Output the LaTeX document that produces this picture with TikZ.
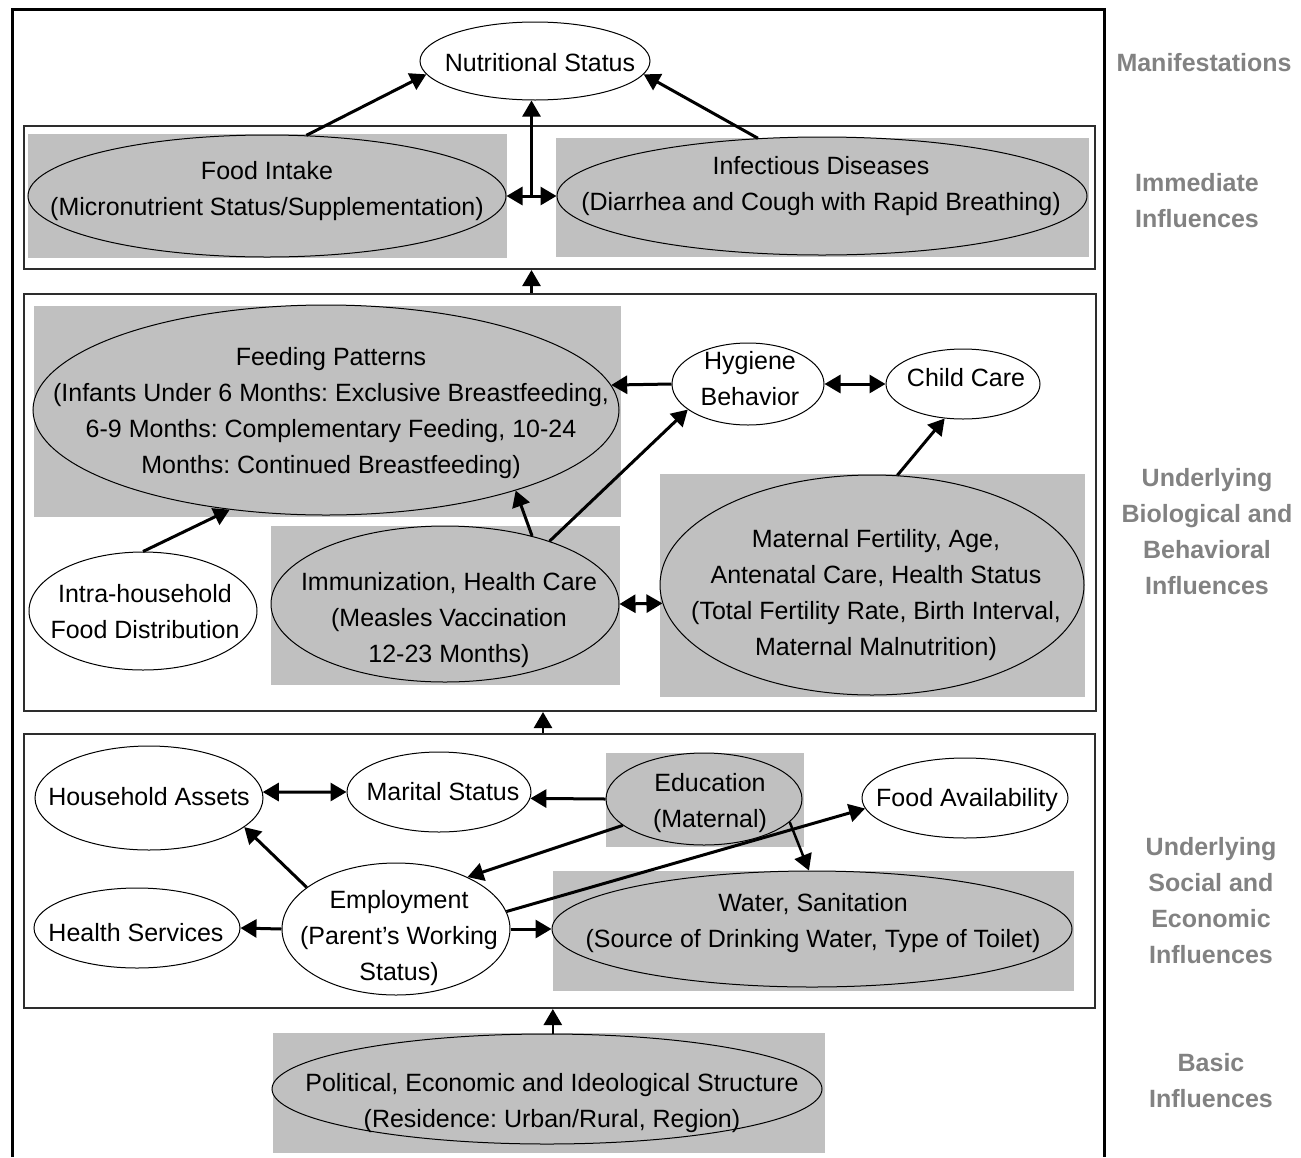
\documentclass[tikz,border=0pt]{standalone}
\usepackage{fontspec}
\setmainfont{Liberation Sans}
\usetikzlibrary{shapes.geometric,arrows.meta,calc}
\definecolor{boxgray}{RGB}{192,192,192}
\definecolor{labgray}{RGB}{130,130,130}
\definecolor{framegray}{RGB}{45,45,45}
\frenchspacing
\begin{document}
\begin{tikzpicture}[x=1pt,y=-1pt,
  ell/.style={ellipse,draw=black,line width=1pt,inner sep=0pt},
  gell/.style={ell,fill=boxgray},
  well/.style={ell,fill=white},
  shadebox/.style={fill=boxgray,draw=none,inner sep=0pt,anchor=north west},
  lvl/.style={draw=framegray,line width=2pt,inner sep=0pt,anchor=north west},
  txt/.style={font=\fontsize{25}{36}\selectfont,align=center,inner sep=0pt},
  side/.style={font=\fontsize{25}{36}\selectfont\bfseries,align=center,inner sep=0pt,text=labgray},
  arr/.style={line width=3pt,-{Triangle[length=16pt,width=18pt]}},
  darr/.style={line width=3pt,{Triangle[length=16pt,width=18pt]}-{Triangle[length=16pt,width=18pt]}},
]
\useasboundingbox (0,0) rectangle (1301,1157);

% outer frame
\draw[line width=3pt] (12.5,1157) -- (12.5,9.5) -- (1104,9.5) -- (1104,1157);

% level boxes
\node[lvl,minimum width=1071pt,minimum height=143pt] (box1) at (23,125) {};
\node[lvl,minimum width=1072pt,minimum height=417pt] (box2) at (23,293) {};
\node[lvl,minimum width=1071pt,minimum height=274pt] (box3) at (23,733) {};

% gray backgrounds
\node[shadebox,minimum width=479pt,minimum height=124pt] (fir) at (28,134) {};
\node[shadebox,minimum width=533pt,minimum height=119pt] (idr) at (556,138) {};
\node[shadebox,minimum width=587pt,minimum height=211pt] (fpr) at (34,306) {};
\node[shadebox,minimum width=425pt,minimum height=223pt] (mfr) at (660,474) {};
\node[shadebox,minimum width=349pt,minimum height=159pt] (imr) at (271,526) {};
\node[shadebox,minimum width=198pt,minimum height=94pt] (edr) at (606,753) {};
\node[shadebox,minimum width=521pt,minimum height=120pt] (wsr) at (553,871) {};
\node[shadebox,minimum width=552pt,minimum height=120pt] (polr) at (273,1033) {};

% ellipses
\node[well,minimum width=230pt,minimum height=78pt] (ns) at (535,61) {};
\node[gell,minimum width=478pt,minimum height=122pt] (fi) at (267,196) {};
\node[gell,minimum width=530pt,minimum height=118pt] (id) at (822,196) {};
\node[gell,minimum width=586pt,minimum height=210pt] (fp) at (326,410) {};
\node[well,minimum width=152pt,minimum height=82pt] (hb) at (748,384) {};
\node[well,minimum width=154pt,minimum height=70pt] (cc) at (963,384) {};
\node[gell,minimum width=424pt,minimum height=220pt] (mf) at (872,585) {};
\node[gell,minimum width=348pt,minimum height=156pt] (im) at (445,604) {};
\node[well,minimum width=228pt,minimum height=118pt] (ih) at (143,611) {};
\node[well,minimum width=228pt,minimum height=104pt] (ha) at (149,798) {};
\node[well,minimum width=184pt,minimum height=80pt] (ms) at (439,792) {};
\node[gell,minimum width=196pt,minimum height=92pt] (ed) at (704,799) {};
\node[well,minimum width=206pt,minimum height=80pt] (fa) at (965,798) {};
\node[gell,minimum width=520pt,minimum height=116pt] (ws) at (812,929) {};
\node[well,minimum width=206pt,minimum height=80pt] (hs) at (137,928) {};
\node[well,minimum width=228pt,minimum height=132pt] (em) at (396,929) {};
\node[gell,minimum width=550pt,minimum height=110pt] (pol) at (547,1089) {};

% texts
\node[txt] (nst) at (540,64) {\strut Nutritional Status};
\node[txt] (fit) at (267,190) {\strut Food Intake\\\strut (Micronutrient Status/Supplementation)};
\node[txt] (idt) at (821,185) {\strut Infectious Diseases\\\strut (Diarrhea and Cough with Rapid Breathing)};
\node[txt] (fpt) at (331,412.5) {\strut Feeding Patterns\\\strut (Infants Under 6 Months: Exclusive Breastfeeding,\\\strut 6-9 Months: Complementary Feeding, 10-24\\\strut Months: Continued Breastfeeding)};
\node[txt] (hbt) at (750,380.5) {\strut Hygiene\\\strut Behavior};
\node[txt] (cct) at (966,379.5) {\strut Child Care};
\node[txt] (mft) at (876,594) {\strut Maternal Fertility, Age,\\\strut Antenatal Care, Health Status\\\strut (Total Fertility Rate, Birth Interval,\\\strut Maternal Malnutrition)};
\node[txt] (imt) at (449,619) {\strut Immunization, Health Care\\\strut (Measles Vaccination\\\strut 12-23 Months)};
\node[txt] (iht) at (145,613.5) {\strut Intra-household\\\strut Food Distribution};
\node[txt] (hat) at (149,798.5) {\strut Household Assets};
\node[txt] (mst) at (443,793.5) {\strut Marital Status};
\node[txt] (edt) at (710,802) {\strut Education\\\strut (Maternal)};
\node[txt] (fat) at (967,799) {\strut Food Availability};
\node[txt] (wst) at (813,922) {\strut Water, Sanitation\\\strut (Source of Drinking Water, Type of Toilet)};
\node[txt] (hst) at (136,934) {\strut Health Services};
\node[txt] (emt) at (399,937) {\strut Employment\\\strut (Parent’s Working\\\strut Status)};
\node[txt] (polt) at (552,1102) {\strut Political, Economic and Ideological Structure\\\strut (Residence: Urban/Rural, Region)};

% side labels
\node[side] (s1) at (1204,63.8) {\strut Manifestations};
\node[side] (s2) at (1197,201.8) {\strut Immediate\\\strut Influences};
\node[side] (s3) at (1207,533) {\strut Underlying\\\strut Biological and\\\strut Behavioral\\\strut Influences};
\node[side] (s4) at (1211,902) {\strut Underlying\\\strut Social and\\\strut Economic\\\strut Influences};
\node[side] (s5) at (1211,1082) {\strut Basic\\\strut Influences};

% connectors: immediate level
\coordinate (mid) at ($(fi.east)!0.5!(id.west)$);
\draw[arr] (fi.57) -- (ns.187);
\draw[arr] (id.138) -- (ns.353);
\draw[darr] (fi.east) -- (id.west);
\draw[arr,line width=2.5pt] (mid) -- (mid |- ns.south);
\draw[arr,line width=2.5pt] (box2.north -| mid) -- (box1.south -| mid);

% underlying biological level
\draw[arr] (hb.west) -- (fp.5);
\draw[darr] (hb.east) -- (cc.west);
\draw[arr] (mf.77) -- (cc.242);
\draw[arr] (im.38) -- (fp.337);
\draw[arr] (im.31) -- (hb.203);
\draw[darr] (im.east) -- (mf.185);
\draw[arr] (ih.north) -- (fp.226);
\coordinate (c3) at (543,0);
\draw[arr,line width=2.5pt] (box3.north -| c3) -- (box2.south -| c3);

% underlying social level
\draw[darr] (ha.3) -- (ms.west);
\draw[arr] (ed.west) -- (ms.356);
\draw[arr] (ed.198) -- (em.36);
\draw[arr,line width=2.5pt] (ed.345) -- (ws.93);
\draw[arr] (em.155) -- (ha.343);
\draw[arr] (em.west) -- (hs.east);
\draw[arr] (em.east) -- (ws.west);
\draw[arr] (em.9) -- (fa.186);

% basic level
\draw[arr,line width=2.5pt] (pol.84) -- (pol.84 |- box3.south);
\end{tikzpicture}
\end{document}
